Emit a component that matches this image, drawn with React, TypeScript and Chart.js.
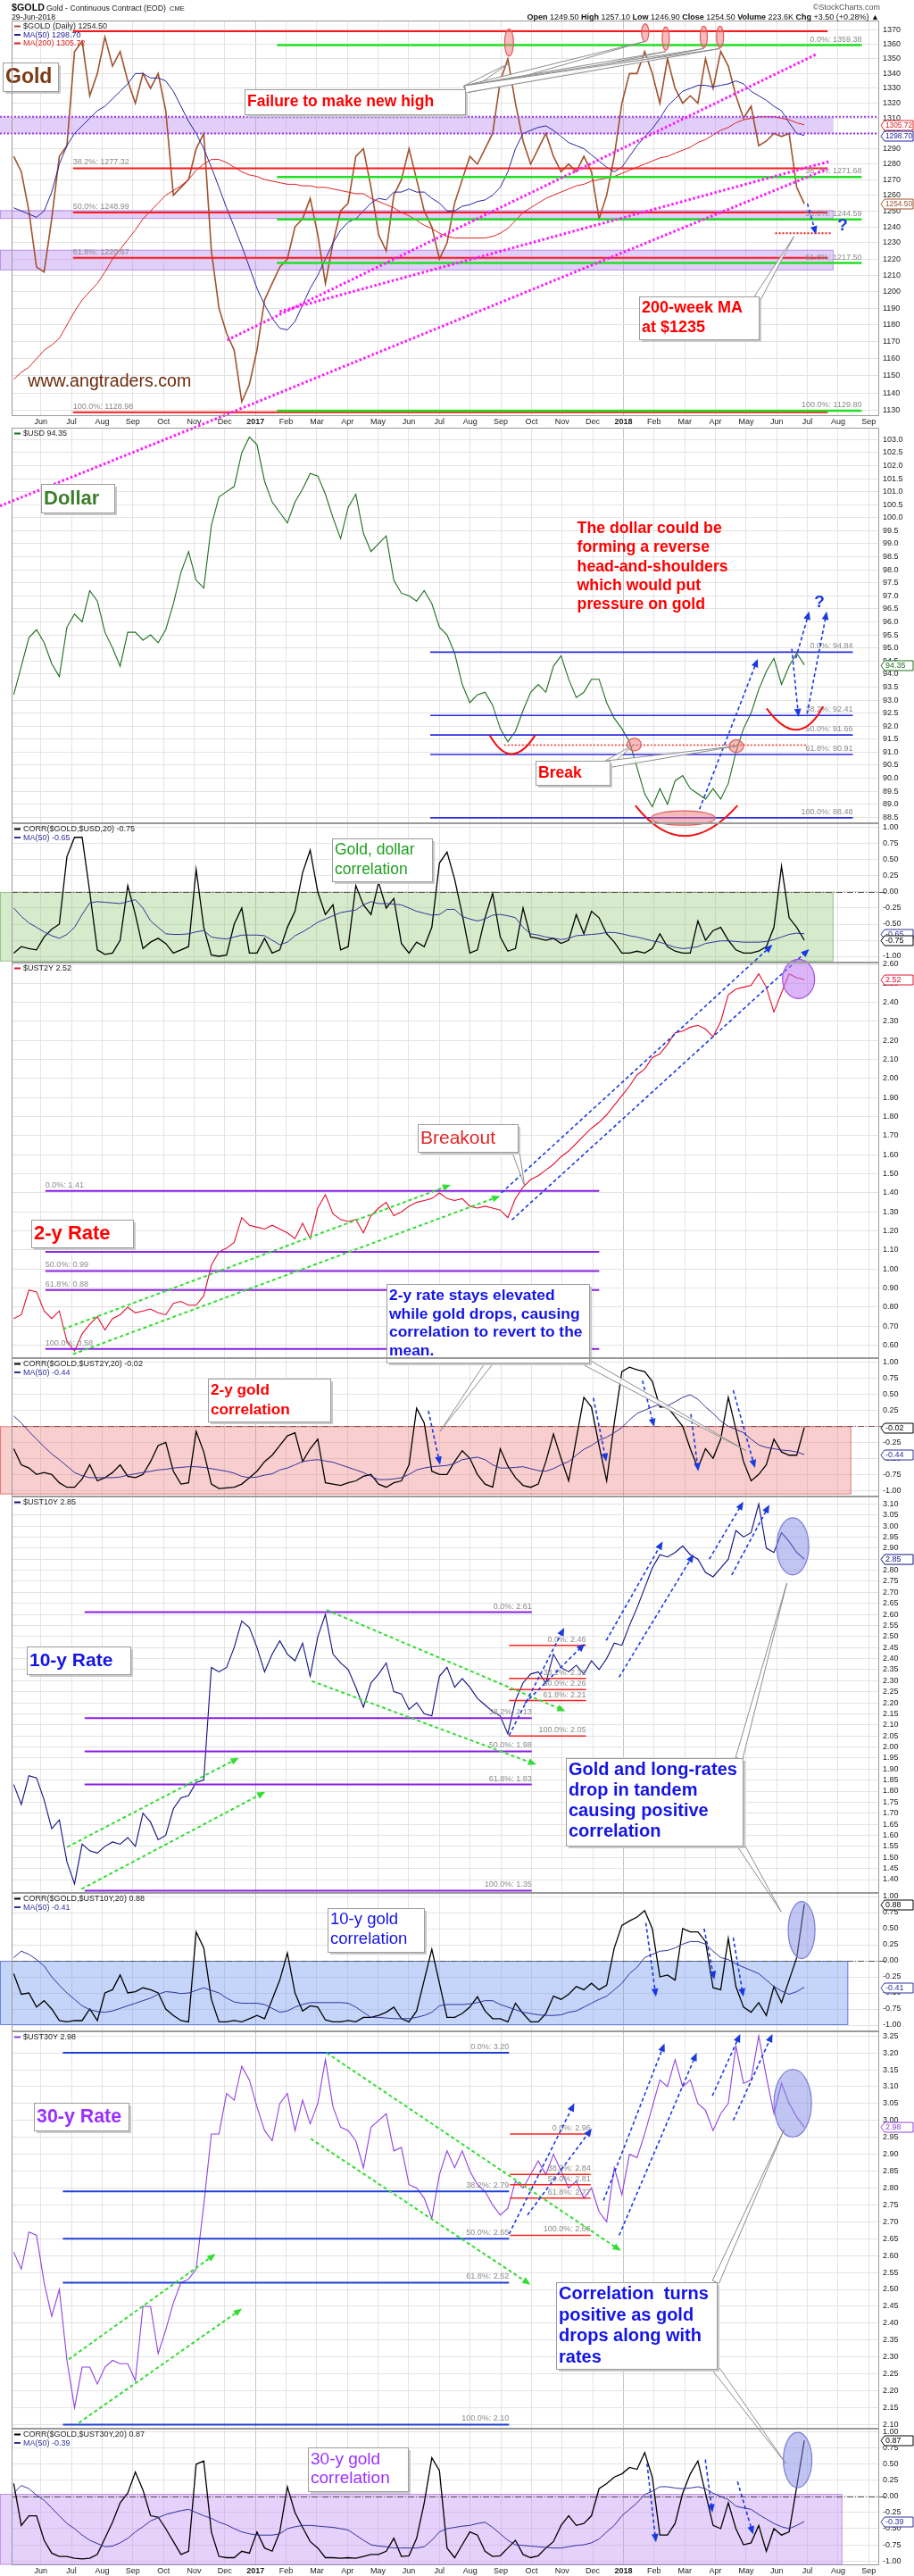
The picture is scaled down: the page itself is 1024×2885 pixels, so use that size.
import React, { useEffect, useRef } from 'react';
import { Chart, registerables } from 'chart.js';

Chart.register(...registerables);

const SANS = '"Liberation Sans", Arial, Helvetica, sans-serif';

// x axis: months since 1 Jan 2016 (5 = Jun 2016, 12 = Jan 2017, 24 = Jan 2018)
// one sample per week, early May 2016 .. 29 Jun 2018
const T0 = 4.117;
const DT = 0.2479;
const X_MIN = 4.048;
const X_MAX = 32.34;

const monthLabels = ['Jun', 'Jul', 'Aug', 'Sep', 'Oct', 'Nov', 'Dec', '2017', 'Feb', 'Mar', 'Apr', 'May', 'Jun', 'Jul',
  'Aug', 'Sep', 'Oct', 'Nov', 'Dec', '2018', 'Feb', 'Mar', 'Apr', 'May', 'Jun', 'Jul', 'Aug', 'Sep'];
const monthTicks = monthLabels.map((_, i) => i + 5);
const isYear = (t: any) => t === 12 || t === 24;

const goldClose = [1285, 1275, 1250, 1215, 1212, 1245, 1285, 1292, 1355, 1362,
  1325, 1340, 1365, 1345, 1355, 1335, 1320, 1340, 1330, 1340,
  1315, 1260, 1265, 1270, 1290, 1300, 1225, 1190, 1175, 1165,
  1135, 1145, 1165, 1195, 1205, 1215, 1220, 1240, 1245, 1258,
  1235, 1205, 1230, 1250, 1255, 1285, 1290, 1265, 1235, 1225,
  1260, 1270, 1290, 1270, 1250, 1240, 1220, 1230, 1255, 1270,
  1285, 1280, 1290, 1300, 1335, 1350, 1320, 1295, 1280, 1290,
  1300, 1285, 1275, 1280, 1275, 1285, 1275, 1245, 1260, 1285,
  1320, 1340, 1340, 1355, 1340, 1320, 1350, 1330, 1320, 1325,
  1320, 1350, 1330, 1355, 1345, 1325, 1310, 1318, 1292, 1295,
  1300, 1298, 1300, 1265, 1254.5];
const goldMa50 = [1252, 1250, 1248, 1246, 1250, 1262, 1280, 1292, 1300, 1305,
  1310, 1315, 1318, 1323, 1328, 1333, 1340, 1340, 1337, 1337,
  1335, 1328, 1318, 1308, 1300, 1290, 1278, 1265, 1252, 1240,
  1228, 1215, 1202, 1192, 1184, 1178, 1177, 1182, 1192, 1202,
  1210, 1220, 1230, 1238, 1243, 1245, 1250, 1255, 1258, 1257,
  1262, 1262, 1264, 1262, 1262, 1258, 1255, 1250, 1250, 1253,
  1254, 1256, 1257, 1260, 1265, 1275, 1290, 1300, 1302, 1304,
  1305, 1302, 1298, 1294, 1292, 1290, 1286, 1282, 1278, 1275,
  1278, 1285, 1292, 1298, 1303, 1310, 1318, 1323, 1328, 1330,
  1332, 1332, 1331, 1332, 1333, 1335, 1333, 1328, 1325, 1322,
  1318, 1315, 1307, 1300, 1298.7];
const goldMa200 = [1148, 1152, 1155, 1160, 1165, 1168, 1172, 1180, 1188, 1195,
  1200, 1205, 1212, 1220, 1226, 1232, 1238, 1245, 1250, 1255,
  1260, 1263, 1266, 1270, 1276, 1280, 1283, 1283, 1281, 1278,
  1275, 1273, 1272, 1270, 1269, 1268, 1267, 1267, 1266, 1266,
  1265, 1265, 1264, 1263, 1262, 1261, 1261, 1258, 1256, 1254,
  1252, 1249, 1247, 1244, 1241, 1239, 1236, 1234, 1233, 1233,
  1233, 1233, 1233, 1234, 1236, 1239, 1244, 1249, 1252, 1255,
  1258, 1260, 1262, 1264, 1266, 1267, 1269, 1270, 1271, 1272,
  1274, 1276, 1278, 1280, 1282, 1284, 1285, 1287, 1289, 1291,
  1294, 1296, 1299, 1302, 1304, 1307, 1309, 1310, 1311, 1311,
  1311, 1310, 1309, 1307, 1305.7];
const usd = [93.2, 94.3, 95.4, 95.7, 95.2, 94.4, 93.9, 95.8, 96.3, 96.0,
  97.2, 96.8, 95.6, 95.0, 94.3, 95.6, 95.6, 95.3, 95.5, 95.2,
  95.7, 96.7, 97.9, 98.7, 97.6, 97.3, 99.7, 100.8, 101.0, 101.2,
  102.5, 103.1, 102.8, 101.4, 100.6, 100.2, 99.8, 100.6, 101.1, 101.7,
  101.6, 100.9, 100.0, 99.2, 100.4, 100.9, 99.4, 98.7, 99.0, 99.3,
  97.6, 97.1, 97.0, 96.8, 97.2, 96.7, 95.8, 95.5, 94.8, 93.6,
  92.9, 93.2, 93.3, 92.8, 91.9, 91.4, 91.8, 92.6, 93.3, 93.6,
  93.3, 94.3, 94.7, 93.8, 93.1, 93.3, 93.8, 93.8, 92.9, 92.3,
  91.9, 91.4, 90.4, 89.4, 88.9, 89.6, 89.0, 89.9, 90.1, 89.6,
  89.4, 89.2, 89.6, 89.2, 89.8, 91.0, 91.9, 92.5, 93.4, 94.1,
  94.6, 93.6, 94.3, 94.8, 94.35];
const corrUsd = [-0.95, -0.85, -0.88, -0.9, -0.7, -0.58, -0.5, 0.55, 0.85, 0.85,
  0.0, -0.9, -0.97, -0.95, -0.75, 0.1, -0.35, -0.88, -0.78, -0.72,
  -0.8, -0.95, -0.9, -0.85, 0.35, -0.55, -0.98, -1.0, -0.98, -0.5,
  -0.25, -0.95, -0.95, -0.72, -0.95, -0.9, -0.55, -0.3, 0.3, 0.65,
  0.0, -0.35, -0.2, -0.9, -0.85, 0.1, -0.2, -0.35, 0.15, -0.25,
  -0.1, -0.8, -0.95, -0.78, -0.85, -0.55, 0.45, 0.62, 0.2, -0.35,
  -0.95, -0.9, -0.4, -0.02, -0.7, -0.92, -0.88, -0.25, -0.7, -0.72,
  -0.75, -0.72, -0.8, -0.75, -0.35, -0.65, -0.3, -0.4, -0.65, -0.78,
  -0.95, -0.95, -0.92, -0.95, -0.88, -0.65, -0.85, -0.92, -0.95, -0.95,
  -0.45, -0.75, -0.6, -0.55, -0.75, -0.9, -0.95, -0.95, -0.92, -0.85,
  -0.55, 0.4, -0.4, -0.55, -0.75];
const corrUsdMa = [-0.25, -0.38, -0.48, -0.55, -0.62, -0.68, -0.72, -0.66, -0.55, -0.35,
  -0.17, -0.15, -0.16, -0.17, -0.18, -0.15, -0.12, -0.25, -0.45, -0.55,
  -0.65, -0.66, -0.66, -0.65, -0.62, -0.6, -0.7, -0.72, -0.73, -0.7,
  -0.67, -0.67, -0.67, -0.68, -0.75, -0.82, -0.78, -0.68, -0.62, -0.55,
  -0.47, -0.42, -0.37, -0.32, -0.3, -0.28, -0.2, -0.15, -0.18, -0.18,
  -0.19, -0.2, -0.25, -0.3, -0.33, -0.36, -0.35, -0.27, -0.27, -0.38,
  -0.42, -0.45, -0.42, -0.36, -0.35, -0.37, -0.4, -0.55, -0.65, -0.67,
  -0.7, -0.72, -0.74, -0.72, -0.68, -0.67, -0.66, -0.65, -0.63, -0.63,
  -0.65, -0.68, -0.7, -0.73, -0.76, -0.78, -0.82, -0.86, -0.88, -0.87,
  -0.85, -0.8, -0.78, -0.76, -0.76, -0.77, -0.78, -0.78, -0.78, -0.77,
  -0.74, -0.7, -0.66, -0.64, -0.65];
const ust2y = [0.74, 0.76, 0.89, 0.88, 0.78, 0.74, 0.78, 0.62, 0.57, 0.66,
  0.71, 0.75, 0.68, 0.74, 0.76, 0.80, 0.77, 0.78, 0.79, 0.77,
  0.76, 0.82, 0.83, 0.81, 0.81, 0.86, 1.02, 1.09, 1.11, 1.14,
  1.27, 1.23, 1.22, 1.21, 1.23, 1.21, 1.19, 1.16, 1.24, 1.16,
  1.32, 1.39, 1.29, 1.26, 1.25, 1.26, 1.19, 1.28, 1.32, 1.35,
  1.28, 1.30, 1.33, 1.35, 1.36, 1.37, 1.40, 1.37, 1.36, 1.37,
  1.33, 1.32, 1.33, 1.32, 1.31, 1.27, 1.37, 1.43, 1.47, 1.49,
  1.52, 1.55, 1.59, 1.62, 1.66, 1.70, 1.74, 1.77, 1.81, 1.86,
  1.91, 1.96, 2.02, 2.05, 2.11, 2.13, 2.18, 2.24, 2.25, 2.27,
  2.28, 2.26, 2.22, 2.30, 2.44, 2.47, 2.48, 2.49, 2.55, 2.48,
  2.35, 2.45, 2.55, 2.53, 2.52];
const corr2y = [-0.35, -0.6, -0.65, -0.75, -0.72, -0.75, -0.88, -0.95, -0.95, -0.82,
  -0.6, -0.85, -0.8, -0.72, -0.6, -0.78, -0.8, -0.75, -0.55, -0.3,
  -0.25, -0.7, -0.9, -0.88, -0.08, -0.4, -0.9, -0.97, -0.96, -0.95,
  -0.9, -0.8, -0.7, -0.55, -0.45, -0.3, -0.15, -0.1, -0.55, -0.35,
  -0.2, -0.88, -0.9, -0.92, -0.88, -0.85, -0.78, -0.75, -0.9, -0.95,
  -0.88, -0.85, -0.6, 0.28, 0.05, -0.7, -0.75, -0.75, -0.55, -0.38,
  -0.5, -0.75, -0.9, -0.95, -0.35, -0.62, -0.8, -0.92, -0.95, -0.9,
  -0.55, -0.12, -0.5, -0.85, -0.2, 0.45, 0.3, -0.3, -0.85, 0.05,
  0.85, 0.92, 0.88, 0.85, 0.7, 0.3, 0.3, 0.15, 0.0, -0.35,
  -0.65, -0.35, -0.5, -0.2, 0.45, -0.05, -0.55, -0.85, -0.75, -0.6,
  -0.2, -0.4, -0.45, -0.45, -0.02];
const corr2yMa = [0.16, 0.05, -0.08, -0.2, -0.32, -0.43, -0.52, -0.62, -0.72, -0.77,
  -0.8, -0.8, -0.8, -0.8, -0.79, -0.76, -0.74, -0.72, -0.7, -0.68,
  -0.67, -0.65, -0.64, -0.63, -0.63, -0.64, -0.66, -0.68, -0.7, -0.73,
  -0.78, -0.8, -0.79, -0.76, -0.74, -0.68, -0.65, -0.6, -0.55, -0.53,
  -0.52, -0.54, -0.56, -0.6, -0.64, -0.68, -0.72, -0.78, -0.83, -0.83,
  -0.82, -0.8, -0.75, -0.68, -0.65, -0.63, -0.62, -0.61, -0.58, -0.52,
  -0.5, -0.48, -0.52, -0.6, -0.65, -0.65, -0.64, -0.63, -0.66, -0.69,
  -0.7, -0.66, -0.6, -0.55, -0.45, -0.36, -0.3, -0.22, -0.17, -0.1,
  -0.02, 0.1, 0.2, 0.25, 0.3, 0.34, 0.32, 0.38, 0.45, 0.49,
  0.42, 0.3, 0.2, 0.08, 0.0, -0.05, -0.1, -0.2, -0.29, -0.33,
  -0.35, -0.37, -0.38, -0.4, -0.44];
const ust10y = [1.83, 1.74, 1.87, 1.86, 1.76, 1.63, 1.67, 1.48, 1.38, 1.56,
  1.53, 1.52, 1.55, 1.57, 1.56, 1.59, 1.55, 1.70, 1.66, 1.58,
  1.60, 1.72, 1.77, 1.78, 1.84, 1.85, 2.36, 2.34, 2.36, 2.45,
  2.57, 2.54, 2.45, 2.34, 2.42, 2.48, 2.42, 2.39, 2.47, 2.32,
  2.50, 2.60, 2.42, 2.38, 2.35, 2.27, 2.18, 2.29, 2.33, 2.38,
  2.25, 2.24, 2.17, 2.20, 2.15, 2.14, 2.32, 2.36, 2.27, 2.31,
  2.27, 2.22, 2.19, 2.16, 2.14, 2.06, 2.21, 2.29, 2.33, 2.34,
  2.29, 2.42, 2.36, 2.34, 2.37, 2.33, 2.39, 2.35, 2.40, 2.47,
  2.46, 2.55, 2.63, 2.72, 2.81, 2.87, 2.86, 2.88, 2.91, 2.87,
  2.85, 2.79, 2.77, 2.81, 2.85, 2.98, 2.95, 2.97, 3.10, 2.90,
  2.88, 2.97, 2.93, 2.88, 2.85];
const corr10y = [-0.2, -0.52, -0.5, -0.72, -0.62, -0.75, -0.93, -0.95, -0.93, -0.93,
  -0.75, -0.93, -0.5, -0.45, -0.22, -0.5, -0.48, -0.42, -0.45, -0.5,
  -0.75, -0.85, -0.93, -0.95, 0.45, 0.2, -0.6, -0.95, -0.95, -0.93,
  -0.95, -0.9, -0.85, -0.9, -0.6, -0.3, 0.12, -0.5, -0.78, -0.7,
  -0.72, -0.92, -0.95, -0.95, -0.93, -0.95, -0.88, -0.88, -0.85, -0.8,
  -0.72, -0.9, -0.95, -0.78, -0.3, 0.18, -0.35, -0.88, -0.88, -0.82,
  -0.72, -0.56, -0.78, -0.9, -0.9, -0.95, -0.66, -0.82, -0.95, -0.95,
  -0.82, -0.55, -0.6, -0.52, -0.4, -0.45, -0.35, -0.45, -0.38, 0.2,
  0.55, 0.62, 0.68, 0.78, 0.5, -0.25, -0.22, -0.3, 0.5, 0.45,
  0.45, 0.3, -0.42, -0.45, 0.35, -0.4, -0.72, -0.8, -0.65, -0.85,
  -0.4, -0.65, -0.3, 0.05, 0.88];
const corr10yMa = [0.05, 0.15, 0.1, 0.02, -0.08, -0.25, -0.38, -0.5, -0.6, -0.7,
  -0.76, -0.79, -0.8, -0.78, -0.74, -0.7, -0.66, -0.62, -0.58, -0.52,
  -0.48, -0.49, -0.51, -0.5, -0.46, -0.42, -0.46, -0.5, -0.58, -0.64,
  -0.66, -0.66, -0.66, -0.68, -0.74, -0.8, -0.78, -0.72, -0.68, -0.65,
  -0.65, -0.65, -0.65, -0.65, -0.66, -0.72, -0.8, -0.88, -0.88, -0.89,
  -0.9, -0.9, -0.9, -0.88, -0.85, -0.8, -0.7, -0.68, -0.68, -0.68,
  -0.67, -0.65, -0.62, -0.62, -0.68, -0.72, -0.76, -0.8, -0.82, -0.84,
  -0.85, -0.85, -0.84, -0.8, -0.78, -0.72, -0.66, -0.6, -0.55, -0.45,
  -0.35, -0.2, -0.1, 0.05, 0.1, 0.15, 0.16, 0.2, 0.26, 0.3,
  0.3, 0.26, 0.15, 0.05, 0.02, -0.05, -0.1, -0.15, -0.2, -0.3,
  -0.4, -0.47, -0.52, -0.48, -0.41];
const ust30y = [2.61, 2.56, 2.67, 2.66, 2.52, 2.42, 2.50, 2.29, 2.15, 2.27,
  2.27, 2.22, 2.27, 2.29, 2.28, 2.28, 2.23, 2.45, 2.45, 2.31,
  2.38, 2.46, 2.52, 2.53, 2.56, 2.75, 2.96, 2.96, 3.08, 3.06,
  3.16, 3.12, 3.04, 2.97, 2.94, 3.05, 3.08, 2.97, 3.06, 2.99,
  3.05, 3.18, 3.04, 2.98, 2.97, 2.94, 2.86, 2.98, 3.00, 3.02,
  2.91, 2.92, 2.81, 2.80, 2.77, 2.71, 2.84, 2.91, 2.86, 2.91,
  2.85, 2.81, 2.79, 2.75, 2.72, 2.74, 2.82, 2.80, 2.84, 2.88,
  2.84, 2.90, 2.85, 2.80, 2.82, 2.77, 2.80, 2.73, 2.70, 2.86,
  2.78, 2.90, 2.89, 2.96, 3.04, 3.12, 3.10, 3.18, 3.10, 3.12,
  3.05, 3.03, 2.97, 3.02, 3.05, 3.22, 3.11, 3.12, 3.25, 3.13,
  3.02, 3.11, 3.05, 3.01, 2.98];
const corr30y = [0.2, -0.45, -0.3, -0.3, -0.68, -0.88, -0.93, -0.93, -0.96, -0.97,
  -0.96, -0.9, -0.65, -0.4, -0.1, 0.05, 0.38, 0.1, -0.3, -0.32,
  -0.5, -0.7, -0.9, -0.85, 0.5, 0.55, -0.55, -0.93, -0.95, -0.95,
  -0.85, -0.88, -0.55, -0.8, -0.85, -0.55, 0.15, -0.25, -0.48, -0.7,
  -0.8, -0.95, -0.95, -0.96, -0.95, -0.96, -0.93, -0.9, -0.9, -0.85,
  -0.65, -0.93, -0.92, -0.65, -0.1, 0.6, 0.4, -0.8, -0.95, -0.75,
  -0.55, -0.6, -0.85, -0.93, -0.92, -0.8, -0.68, -0.9, -0.95, -0.92,
  -0.8, -0.7, -0.45, -0.3, -0.45, -0.42, -0.3, 0.12, 0.2, 0.3,
  0.35, 0.45, 0.42, 0.68, 0.3, -0.6, -0.6, -0.42, 0.05, 0.35,
  0.55, 0.05, -0.45, -0.5, -0.1, -0.5, -0.75, -0.72, -0.45, -0.85,
  -0.5, -0.6, -0.55, 0.15, 0.87];
const corr30yMa = [0.05, 0.17, 0.12, 0.02, -0.06, -0.18, -0.3, -0.42, -0.5, -0.6,
  -0.68, -0.73, -0.78, -0.77, -0.72, -0.65, -0.55, -0.47, -0.38, -0.33,
  -0.28, -0.25, -0.22, -0.2, -0.25, -0.3, -0.34, -0.4, -0.44, -0.5,
  -0.55, -0.58, -0.6, -0.6, -0.6, -0.58, -0.5, -0.47, -0.45, -0.45,
  -0.46, -0.47, -0.48, -0.5, -0.52, -0.6, -0.68, -0.75, -0.77, -0.78,
  -0.8, -0.8, -0.8, -0.8, -0.78, -0.68, -0.55, -0.5, -0.48, -0.46,
  -0.45, -0.42, -0.4, -0.48, -0.58, -0.68, -0.75, -0.76, -0.77, -0.78,
  -0.79, -0.8, -0.8, -0.78, -0.76, -0.75, -0.72, -0.66, -0.55, -0.45,
  -0.3, -0.2, -0.1, 0.03, 0.08, 0.15, 0.15, 0.13, 0.12, 0.13,
  0.15, 0.12, 0.05, 0.0, -0.05, -0.15, -0.18, -0.2, -0.28, -0.35,
  -0.42, -0.47, -0.5, -0.45, -0.39];

// panels, top to bottom (h = height in px)
const panels = [
  { id: 'gold', h: 443, min: 1126.8, max: 1376.4, log: true, tick: [1130, 1370, 10], dec: 0 },
  { id: 'sp', h: 13 },
  { id: 'usd', h: 443, min: 88.27, max: 103.456, tick: [88.5, 103, 0.5], dec: 1 },
  { id: 'cusd', h: 156, min: -1.097, max: 1.069, tick: [-1, 1, 0.25], dec: 2 },
  { id: 'y2', h: 443, min: 0.5325, max: 2.6094, tick: [0.6, 2.6, 0.1], dec: 2 },
  { id: 'c2', h: 155, min: -1.093, max: 1.061, tick: [-1, 1, 0.25], dec: 2 },
  { id: 'y10', h: 444, min: 1.3394, max: 3.1335, tick: [1.4, 3.1, 0.05], dec: 2 },
  { id: 'c10', h: 155, min: -1.097, max: 1.0556, tick: [-1, 1, 0.25], dec: 2 },
  { id: 'y30', h: 445, min: 2.0878, max: 3.2637, tick: [2.1, 3.25, 0.05], dec: 2 },
  { id: 'c30', h: 153, min: -1.068, max: 1.051, tick: [-1, 1, 0.25], dec: 2 },
];

const BLUE_MA = '#30309a';
const series = [
  { ax: 'gold', data: goldMa200, color: '#e02020', w: 1 },
  { ax: 'gold', data: goldMa50, color: '#2323a0', w: 1 },
  { ax: 'gold', data: goldClose, color: '#a0522d', w: 1.6 },
  { ax: 'usd', data: usd, color: '#1d6e1d', w: 1.1 },
  { ax: 'cusd', data: corrUsdMa, color: BLUE_MA, w: 1 },
  { ax: 'cusd', data: corrUsd, color: '#000', w: 1.3 },
  { ax: 'y2', data: ust2y, color: '#e01030', w: 1.1 },
  { ax: 'c2', data: corr2yMa, color: BLUE_MA, w: 1 },
  { ax: 'c2', data: corr2y, color: '#000', w: 1.3 },
  { ax: 'y10', data: ust10y, color: '#101080', w: 1.1 },
  { ax: 'c10', data: corr10yMa, color: BLUE_MA, w: 1 },
  { ax: 'c10', data: corr10y, color: '#000', w: 1.3 },
  { ax: 'y30', data: ust30y, color: '#9040e0', w: 1.1 },
  { ax: 'c30', data: corr30yMa, color: BLUE_MA, w: 1 },
  { ax: 'c30', data: corr30y, color: '#000', w: 1.3 },
];

// ---- annotations (data coordinates: [t, value]) ----
const bands = [
  { ax: 'gold', t1: 3.67, t2: 30.85, lo: 1300, hi: 1311, fill: 'rgba(185,140,240,0.42)', edge: '' },
  { ax: 'gold', t1: 3.67, t2: 30.85, lo: 1245, hi: 1250.5, fill: 'rgba(185,140,240,0.42)', edge: 'rgba(150,90,220,0.5)' },
  { ax: 'gold', t1: 3.67, t2: 30.85, lo: 1213, hi: 1225.7, fill: 'rgba(185,140,240,0.42)', edge: 'rgba(150,90,220,0.5)' },
  { ax: 'cusd', t1: 3.67, t2: 30.85, lo: -1.08, hi: 0, fill: 'rgba(140,200,115,0.36)', edge: 'rgba(110,170,90,0.6)' },
  { ax: 'c2', t1: 3.67, t2: 31.43, lo: -1.06, hi: 0, fill: 'rgba(238,120,120,0.36)', edge: 'rgba(220,90,90,0.7)' },
  { ax: 'c10', t1: 3.67, t2: 31.33, lo: -1.0, hi: 0, fill: 'rgba(110,150,240,0.4)', edge: 'rgba(80,110,220,0.8)' },
  { ax: 'c30', t1: 3.67, t2: 31.14, lo: -1.06, hi: 0.04, fill: 'rgba(190,140,240,0.4)', edge: 'rgba(170,110,230,0.6)' },
];
const zeroLines = [
  { ax: 'cusd', color: '#555' }, { ax: 'c2', color: '#8a4a4a' }, { ax: 'c10', color: '#555' }, { ax: 'c30', color: '#555' },
];
const goldBandEdges = [1311, 1300];

const fibSets = [
  { ax: 'gold', t1: 6.05, t2: 30.66, color: '#ff1a1a', w: 2, side: 'left',
    levels: [[1369.0, ''], [1277.32, '38.2%: 1277.32'], [1248.99, '50.0%: 1248.99'], [1220.67, '61.8%: 1220.67'], [1128.98, '100.0%: 1128.98']] },
  { ax: 'gold', t1: 12.70, t2: 31.77, color: '#22e022', w: 2.5, side: 'right',
    levels: [[1359.38, '0.0%: 1359.38'], [1271.68, '38.2%: 1271.68'], [1244.59, '50.0%: 1244.59'], [1217.50, '61.8%: 1217.50'], [1129.80, '100.0%: 1129.80']] },
  { ax: 'usd', t1: 17.70, t2: 31.48, color: '#2a2ae0', w: 1.6, side: 'right',
    levels: [[94.84, '0.0%: 94.84'], [92.41, '38.2%: 92.41'], [91.66, '50.0%: 91.66'], [90.91, '61.8%: 90.91'], [88.48, '100.0%: 88.48']] },
  { ax: 'y2', t1: 5.15, t2: 23.21, color: '#8a1fe6', w: 2, side: 'left',
    levels: [[1.41, '0.0%: 1.41'], [1.09, '38.2%: 1.09'], [0.99, '50.0%: 0.99'], [0.89, '61.8%: 0.88'], [0.58, '100.0%: 0.58']] },
  { ax: 'y10', t1: 6.43, t2: 21.01, color: '#8a1fe6', w: 2, side: 'right',
    levels: [[2.61, '0.0%: 2.61'], [2.13, '38.2%: 2.13'], [1.98, '50.0%: 1.98'], [1.83, '61.8%: 1.83'], [1.35, '100.0%: 1.35']] },
  { ax: 'y10', t1: 20.27, t2: 22.78, color: '#ff2020', w: 1.5, side: 'right',
    levels: [[2.46, '0.0%: 2.46'], [2.31, '38.2%: 2.31'], [2.26, '50.0%: 2.26'], [2.21, '61.8%: 2.21'], [2.05, '100.0%: 2.05']] },
  { ax: 'y30', t1: 5.72, t2: 20.27, color: '#1f3fd9', w: 2, side: 'right',
    levels: [[3.20, '0.0%: 3.20'], [2.79, '38.2%: 2.79'], [2.65, '50.0%: 2.65'], [2.52, '61.8%: 2.52'], [2.10, '100.0%: 2.10']] },
  { ax: 'y30', t1: 20.30, t2: 22.93, color: '#ff2020', w: 1.5, side: 'right',
    levels: [[2.96, '0.0%: 2.96'], [2.84, '38.2%: 2.84'], [2.81, '50.0%: 2.81'], [2.77, '61.8%: 2.77'], [2.66, '100.0%: 2.66']] },
];
const dottedLines = [
  { ax: 'usd', t1: 20.11, t2: 30.0, v: 91.27, color: '#f03030', w: 1.5 },
  { ax: 'gold', t1: 28.95, t2: 30.76, v: 1236, color: '#f02020', w: 2 },
];
const trendLines = [
  ['gold', 11.08, 1171, 30.28, 1353],
  ['gold', 12.79, 1188, 30.76, 1282],
  ['gold', 10.0, 1120.2, 30.66, 1277],
  ['usd', 3.67, 100.45, 10.0, 103.456],
];
// [axis, t1, v1, t2, v2, colour] - blue ('b') or green ('g') dashed arrows
const arrows: any[] = [
  ['gold', 30.0, 1254.7, 30.28, 1235.3, 'b'],
  ['usd', 26.48, 88.81, 28.38, 94.58, 'b'],
  ['usd', 29.49, 94.97, 29.71, 92.35, 'b'],
  ['usd', 29.99, 92.47, 30.63, 96.4, 'b'],
  ['usd', 29.62, 94.6, 30.06, 96.4, 'b'],
  ['y2', 20.02, 1.40, 28.86, 2.703, 'b'],
  ['y2', 20.36, 1.258, 30.06, 2.68, 'b'],
  ['y2', 5.72, 0.684, 18.37, 1.442, 'g'],
  ['y2', 6.05, 0.553, 19.98, 1.384, 'g'],
  ['c2', 17.64, 0.24, 18.02, -0.6, 'b'],
  ['c2', 23.02, 0.44, 23.44, -0.55, 'b'],
  ['c2', 24.62, 0.71, 25.0, -0.01, 'b'],
  ['c2', 26.2, 0.19, 26.44, -0.7, 'b'],
  ['c2', 27.58, 0.56, 28.29, -0.65, 'b'],
  ['y10', 14.32, 2.62, 22.11, 2.162, 'g'],
  ['y10', 13.84, 2.298, 21.16, 1.92, 'g'],
  ['y10', 5.86, 1.547, 11.46, 1.951, 'g'],
  ['y10', 6.33, 1.357, 12.32, 1.797, 'g'],
  ['y10', 20.27, 2.052, 22.07, 2.54, 'b'],
  ['y10', 20.78, 2.197, 22.74, 2.468, 'b'],
  ['y10', 23.44, 2.482, 25.28, 2.93, 'b'],
  ['y10', 23.86, 2.316, 26.29, 2.872, 'b'],
  ['y10', 26.8, 2.85, 27.91, 3.11, 'b'],
  ['y10', 27.53, 2.778, 28.76, 3.096, 'b'],
  ['c10', 24.73, 0.59, 25.06, -0.56, 'b'],
  ['c10', 26.63, 0.5, 26.96, -0.29, 'b'],
  ['c10', 27.58, 0.36, 27.91, -0.56, 'b'],
  ['y30', 14.32, 3.20, 23.92, 2.614, 'g'],
  ['y30', 13.80, 2.946, 20.97, 2.514, 'g'],
  ['y30', 5.91, 2.293, 10.7, 2.605, 'g'],
  ['y30', 6.24, 2.105, 11.56, 2.443, 'g'],
  ['y30', 20.27, 2.664, 22.4, 3.051, 'b'],
  ['y30', 20.87, 2.72, 22.97, 2.976, 'b'],
  ['y30', 23.35, 2.763, 25.34, 3.228, 'b'],
  ['y30', 23.86, 2.66, 26.39, 3.20, 'b'],
  ['y30', 26.9, 3.073, 27.81, 3.256, 'b'],
  ['y30', 27.58, 3.0, 28.86, 3.256, 'b'],
  ['c30', 24.77, 0.51, 25.06, -0.71, 'b'],
  ['c30', 26.67, 0.57, 26.9, -0.25, 'b'],
  ['c30', 27.72, 0.23, 28.23, -0.59, 'b'],
];
// head-and-shoulders arcs: start, control, end
const arcs = [
  ['usd', 19.64, 91.65, 20.34, 90.21, 21.12, 91.65],
  ['usd', 24.39, 88.95, 25.95, 86.61, 27.72, 88.95],
  ['usd', 28.67, 92.68, 29.71, 91.0, 30.51, 92.75],
];
// [axis, t, v, rx px, ry px, style]
const ellipses: any[] = [
  ['gold', 20.27, 1361.2, 5, 15, 'r'],
  ['gold', 24.71, 1368, 4, 10, 'r'],
  ['gold', 25.38, 1364, 4, 13, 'r'],
  ['gold', 26.62, 1365, 4, 12, 'r'],
  ['gold', 27.15, 1365, 4, 12, 'r'],
  ['usd', 24.35, 91.29, 8, 7, 'r'],
  ['usd', 27.68, 91.23, 8, 7, 'r'],
  ['usd', 25.95, 88.47, 36, 8, 'r'],
  ['y2', 29.71, 2.523, 18, 22, 'p'],
  ['y10', 29.52, 2.908, 18, 32, 'b'],
  ['c10', 29.81, 0.477, 15, 32, 'b'],
  ['y30', 29.52, 3.051, 21, 38, 'b'],
  ['c30', 29.68, 0.565, 16, 31, 'b'],
];
const ellipseStyle: any = {
  r: ['rgba(240,120,120,0.5)', '#e05a5a'],
  p: ['rgba(190,120,240,0.55)', '#a050e0'],
  b: ['rgba(130,140,230,0.5)', '#7c7cd8'],
};
// callout wedges: base -> tip
const callouts: any[] = [
  [['gold', 18.84, 1329.4], ['gold', 20.27, 1347]],
  [['gold', 18.84, 1329.4], ['gold', 24.71, 1362]],
  [['gold', 18.84, 1329.4], ['gold', 25.38, 1355]],
  [['gold', 18.84, 1329.4], ['gold', 26.62, 1357]],
  [['gold', 18.84, 1329.4], ['gold', 27.15, 1357]],
  [['gold', 28.38, 1196.4], ['gold', 29.56, 1234]],
  [['usd', 23.44, 90.53], ['usd', 24.35, 91.29]],
  [['usd', 23.44, 90.53], ['usd', 27.68, 91.23]],
  [['y2', 20.49, 1.617], ['y2', 20.78, 1.434]],
  [['c2', 19.64, 1.0], ['c2', 18.02, -0.08]],
  [['c2', 22.77, 1.0], ['c2', 28.0, -0.38]],
  [['y10', 27.77, 1.948], ['y10', 29.33, 2.742]],
  [['y10', 27.81, 1.559], ['c10', 29.14, 0.766]],
  [['y30', 27.01, 2.522], ['y30', 29.24, 2.973]],
  [['y30', 27.01, 2.265], ['c30', 29.3, 0.51]],
];
// text boxes, anchored at their top-left corner
const notes = [
  { ax: 'gold', t: 3.76, v: 1347.5, w: 62, h: 32, lines: ['Gold'], color: '#7b3a12', size: 23, bold: true },
  { ax: 'gold', t: 11.65, v: 1329.4, w: 247, h: 28, lines: ['Failure to make new high'], color: '#ff0000', size: 17.5, bold: true },
  { ax: 'gold', t: 24.52, v: 1197.3, w: 134, h: 48, lines: ['200-week MA', 'at $1235'], color: '#ff0000', size: 18, bold: true },
  { ax: 'usd', t: 5.0, v: 101.31, w: 82, h: 32, lines: ['Dollar'], color: '#3b7d2b', size: 22, bold: true },
  { ax: 'usd', t: 21.12, v: 90.67, w: 83, h: 27, lines: ['Break'], color: '#ff0000', size: 17.5, bold: true },
  { ax: 'cusd', t: 14.51, v: 0.833, w: 112, h: 48, lines: ['Gold, dollar', 'correlation'], color: '#1fa01f', size: 17.5, bold: false },
  { ax: 'y2', t: 17.28, v: 1.761, w: 112, h: 31, lines: ['Breakout'], color: '#e02828', size: 21, bold: false },
  { ax: 'y2', t: 4.68, v: 1.258, w: 114, h: 31, lines: ['2-y Rate'], color: '#ff0000', size: 22, bold: true },
  { ax: 'y2', t: 16.27, v: 0.922, w: 227, h: 88, lh: 20.7, lines: ['2-y rate stays elevated', 'while gold drops, causing', 'correlation to revert to the', 'mean.'], color: '#1414e6', size: 17.4, bold: true },
  { ax: 'c2', t: 10.44, v: 0.747, w: 137, h: 48, lines: ['2-y gold', 'correlation'], color: '#ff0000', size: 17.2, bold: true },
  { ax: 'y10', t: 4.53, v: 2.454, w: 116, h: 31, lines: ['10-y Rate'], color: '#1414e6', size: 21, bold: true },
  { ax: 'y10', t: 22.11, v: 1.948, w: 198, h: 98, lh: 23.2, lines: ['Gold and long-rates', 'drop in tandem', 'causing positive', 'correlation'], color: '#1414e6', size: 20, bold: true },
  { ax: 'c10', t: 14.35, v: 0.815, w: 108, h: 49, lines: ['10-y gold', 'correlation'], color: '#1414e6', size: 18.5, bold: false },
  { ax: 'y30', t: 4.77, v: 3.053, w: 106, h: 31, lines: ['30-y Rate'], color: '#9b30ff', size: 21.4, bold: true },
  { ax: 'y30', t: 21.81, v: 2.522, w: 180, h: 97, lh: 23.8, lines: ['Correlation  turns', 'positive as gold', 'drops along with', 'rates'], color: '#1414e6', size: 20, bold: true },
  { ax: 'c30', t: 13.71, v: 0.757, w: 112, h: 49, lines: ['30-y gold', 'correlation'], color: '#9b30ff', size: 19, bold: false },
];
const freeTexts = [
  { ax: 'gold', t: 4.58, v: 1146.3, lines: ['www.angtraders.com'], color: '#6b2a0a', size: 19.6, bold: false, lh: 20 },
  { ax: 'usd', t: 22.49, v: 99.58, lines: ['The dollar could be', 'forming a reverse', 'head-and-shoulders', 'which would put', 'pressure on gold'], color: '#ff0000', size: 17.7, bold: true, lh: 21.3 },
  { ax: 'gold', t: 30.98, v: 1241, lines: ['?'], color: '#1a3ae0', size: 19, bold: true, lh: 20 },
  { ax: 'usd', t: 30.22, v: 96.74, lines: ['?'], color: '#1a3ae0', size: 19, bold: true, lh: 20 },
];
const legends = [
  { ax: 'gold', rows: [['$GOLD (Daily) 1254.50', '#a0522d', '#222'], ['MA(50) 1298.70', '#2323a0', '#2323a0'], ['MA(200) 1305.72', '#e02020', '#e02020']] },
  { ax: 'usd', rows: [['$USD 94.35', '#1d6e1d', '#222']] },
  { ax: 'cusd', rows: [['CORR($GOLD,$USD,20) -0.75', '#000', '#222'], ['MA(50) -0.65', BLUE_MA, BLUE_MA]] },
  { ax: 'y2', rows: [['$UST2Y 2.52', '#e01030', '#222']] },
  { ax: 'c2', rows: [['CORR($GOLD,$UST2Y,20) -0.02', '#000', '#222'], ['MA(50) -0.44', BLUE_MA, BLUE_MA]] },
  { ax: 'y10', rows: [['$UST10Y 2.85', '#101080', '#222']] },
  { ax: 'c10', rows: [['CORR($GOLD,$UST10Y,20) 0.88', '#000', '#222'], ['MA(50) -0.41', BLUE_MA, BLUE_MA]] },
  { ax: 'y30', rows: [['$UST30Y 2.98', '#9040e0', '#222']] },
  { ax: 'c30', rows: [['CORR($GOLD,$UST30Y,20) 0.87', '#000', '#222'], ['MA(50) -0.39', BLUE_MA, BLUE_MA]] },
];
const valueTags: any[] = [
  ['gold', 1305.72, '1305.72', '#e02020'], ['gold', 1298.70, '1298.70', '#2323a0'], ['gold', 1254.50, '1254.50', '#a0522d'],
  ['usd', 94.35, '94.35', '#1d6e1d'],
  ['cusd', -0.65, '-0.65', BLUE_MA], ['cusd', -0.75, '-0.75', '#000'],
  ['y2', 2.52, '2.52', '#e01030'],
  ['c2', -0.02, '-0.02', '#000'], ['c2', -0.44, '-0.44', BLUE_MA],
  ['y10', 2.85, '2.85', '#101080'],
  ['c10', 0.88, '0.88', '#000'], ['c10', -0.41, '-0.41', BLUE_MA],
  ['y30', 2.98, '2.98', '#9040e0'],
  ['c30', 0.87, '0.87', '#000'], ['c30', -0.39, '-0.39', BLUE_MA],
];

const range = (lo: number, hi: number, st: number) => {
  const out: number[] = [];
  for (let v = lo; v <= hi + st / 2; v += st) out.push(+v.toFixed(4));
  return out;
};
const font = (size: number, bold = false) => `${bold ? 'bold ' : ''}${size}px ${SANS}`;

function drawArrow(ctx: any, x1: number, y1: number, x2: number, y2: number, color: string, w: number) {
  const a = Math.atan2(y2 - y1, x2 - x1);
  const hl = 10;
  ctx.strokeStyle = color;
  ctx.lineWidth = w;
  ctx.setLineDash([4, 3]);
  ctx.beginPath();
  ctx.moveTo(x1, y1);
  ctx.lineTo(x2 - Math.cos(a) * hl * 0.7, y2 - Math.sin(a) * hl * 0.7);
  ctx.stroke();
  ctx.setLineDash([]);
  ctx.fillStyle = color;
  ctx.beginPath();
  ctx.moveTo(x2, y2);
  ctx.lineTo(x2 - hl * Math.cos(a - 0.4), y2 - hl * Math.sin(a - 0.4));
  ctx.lineTo(x2 - hl * Math.cos(a + 0.4), y2 - hl * Math.sin(a + 0.4));
  ctx.closePath();
  ctx.fill();
}

function drawLines(ctx: any, x: number, yFirst: number, lines: string[], lh: number, size: number, bold: boolean, color: string, maxW: number) {
  ctx.font = font(size, bold);
  ctx.fillStyle = color;
  ctx.textAlign = 'left';
  ctx.textBaseline = 'middle';
  const widest = Math.max(...lines.map((s) => ctx.measureText(s).width));
  const k = Math.min(1, maxW / widest);
  ctx.save();
  ctx.translate(x, yFirst);
  ctx.scale(k, 1);
  lines.forEach((s, i) => ctx.fillText(s, 0, i * lh));
  ctx.restore();
}

const overlay = {
  id: 'overlay',
  beforeDatasetsDraw(chart: any) {
    const { ctx, chartArea: ca, scales: s } = chart;
    const X = (t: number) => s.x.getPixelForValue(t);
    ctx.save();
    for (const b of bands) {
      const sc = s[b.ax];
      const yTop = sc.getPixelForValue(b.hi);
      const yBot = Math.min(sc.getPixelForValue(b.lo), sc.bottom);
      const x1 = X(b.t1);
      const x2 = X(b.t2);
      ctx.fillStyle = b.fill;
      ctx.fillRect(x1, yTop, x2 - x1, yBot - yTop);
      if (b.edge) {
        ctx.strokeStyle = b.edge;
        ctx.lineWidth = 1;
        ctx.strokeRect(x1 + 0.5, yTop + 0.5, x2 - x1 - 1, yBot - yTop - 1);
      }
    }
    ctx.lineWidth = 1;
    ctx.setLineDash([7, 2, 1, 2]);
    for (const z of zeroLines) {
      const y = Math.round(s[z.ax].getPixelForValue(0)) + 0.5;
      ctx.strokeStyle = z.color;
      ctx.beginPath();
      ctx.moveTo(ca.left, y);
      ctx.lineTo(ca.right + 8, y);
      ctx.stroke();
    }
    ctx.setLineDash([]);
    // label strip between the gold and dollar panels
    const sp = s.sp;
    ctx.fillStyle = '#fff';
    ctx.fillRect(ca.left - 1, sp.top, ca.right - ca.left + 2, sp.bottom - sp.top);
    ctx.fillStyle = '#222';
    ctx.textAlign = 'center';
    ctx.textBaseline = 'middle';
    for (const t of monthTicks) {
      ctx.font = font(9, isYear(t));
      ctx.fillText(monthLabels[t - 5], X(t), (sp.top + sp.bottom) / 2 + 0.5);
    }
    ctx.restore();
  },
  afterDatasetsDraw(chart: any) {
    const { ctx, chartArea: ca, scales: s } = chart;
    const X = (t: number) => s.x.getPixelForValue(t);
    const Y = (ax: string, v: number) => s[ax].getPixelForValue(v);
    const line = (x1: number, y1: number, x2: number, y2: number) => {
      ctx.beginPath(); ctx.moveTo(x1, y1); ctx.lineTo(x2, y2); ctx.stroke();
    };
    ctx.save();
    ctx.lineCap = 'butt';
    // dotted edges of the upper gold band
    ctx.setLineDash([2, 2]);
    ctx.lineWidth = 2;
    ctx.strokeStyle = '#9b3cf0';
    for (const v of goldBandEdges) line(0, Y('gold', v), ca.right, Y('gold', v));
    ctx.setLineDash([]);
    // fibonacci levels
    for (const f of fibSets) {
      for (const [v, label] of f.levels as any[]) {
        const y = Y(f.ax, v);
        ctx.strokeStyle = f.color;
        ctx.lineWidth = f.w;
        line(X(f.t1), y, X(f.t2), y);
        if (label) {
          ctx.fillStyle = '#8a8a8a';
          ctx.font = font(9);
          ctx.textBaseline = 'bottom';
          ctx.textAlign = f.side === 'left' ? 'left' : 'right';
          ctx.fillText(label, f.side === 'left' ? X(f.t1) : X(f.t2), y - 2);
        }
      }
    }
    ctx.setLineDash([2, 2]);
    for (const d of dottedLines) {
      ctx.strokeStyle = d.color;
      ctx.lineWidth = d.w;
      line(X(d.t1), Y(d.ax, d.v), X(d.t2), Y(d.ax, d.v));
    }
    // magenta trend lines
    ctx.setLineDash([2.5, 2.5]);
    ctx.strokeStyle = '#ff1aff';
    ctx.lineWidth = 3;
    for (const [ax, t1, v1, t2, v2] of trendLines as any[]) line(X(t1), Y(ax, v1), X(t2), Y(ax, v2));
    ctx.setLineDash([]);
    for (const [ax, t1, v1, t2, v2, c] of arrows) {
      if (c === 'g') drawArrow(ctx, X(t1), Y(ax, v1), X(t2), Y(ax, v2), '#33dd33', 2);
      else drawArrow(ctx, X(t1), Y(ax, v1), X(t2), Y(ax, v2), '#1a3ae0', 1.6);
    }
    ctx.strokeStyle = '#f01010';
    ctx.lineWidth = 2;
    for (const [ax, t1, v1, tc, vc, t2, v2] of arcs as any[]) {
      ctx.beginPath();
      ctx.moveTo(X(t1), Y(ax, v1));
      ctx.quadraticCurveTo(X(tc), Y(ax, vc), X(t2), Y(ax, v2));
      ctx.stroke();
    }
    for (const [ax, t, v, rx, ry, st] of ellipses) {
      ctx.beginPath();
      ctx.ellipse(X(t), Y(ax, v), rx, ry, 0, 0, Math.PI * 2);
      ctx.fillStyle = ellipseStyle[st][0];
      ctx.fill();
      ctx.strokeStyle = ellipseStyle[st][1];
      ctx.lineWidth = 1.2;
      ctx.stroke();
    }
    // callout wedges
    for (const [[a1, t1, v1], [a2, t2, v2]] of callouts) {
      const bx = X(t1); const by = Y(a1, v1);
      const tx = X(t2); const ty = Y(a2, v2);
      const a = Math.atan2(ty - by, tx - bx);
      const nx = -Math.sin(a) * 4; const ny = Math.cos(a) * 4;
      ctx.beginPath();
      ctx.moveTo(bx + nx, by + ny);
      ctx.lineTo(tx, ty);
      ctx.lineTo(bx - nx, by - ny);
      ctx.closePath();
      ctx.fillStyle = 'rgba(255,255,255,0.85)';
      ctx.fill();
      ctx.strokeStyle = '#8c8c8c';
      ctx.lineWidth = 1;
      ctx.stroke();
    }
    // text boxes
    for (const n of notes as any[]) {
      const x = Math.round(X(n.t));
      const y = Math.round(Y(n.ax, n.v));
      ctx.fillStyle = '#c9c9c9';
      ctx.fillRect(x + 3, y + 3, n.w, n.h);
      ctx.fillStyle = '#fff';
      ctx.fillRect(x, y, n.w, n.h);
      ctx.strokeStyle = '#9c9c9c';
      ctx.lineWidth = 1;
      ctx.strokeRect(x + 0.5, y + 0.5, n.w, n.h);
      const lh = n.lh || 21.6;
      const first = n.lines.length === 1 ? y + n.h / 2 + 0.5 : y + 13.3;
      drawLines(ctx, x + 3, first, n.lines, lh, n.size, n.bold, n.color, n.w - 7);
    }
    for (const f of freeTexts) {
      drawLines(ctx, X(f.t), Y(f.ax, f.v), f.lines, f.lh, f.size, f.bold, f.color, 400);
    }
    // legends
    for (const lg of legends) {
      const top = s[lg.ax].top;
      lg.rows.forEach(([txt, mark, col], i) => {
        const y = top + 6.5 + i * 9.5;
        ctx.strokeStyle = mark;
        ctx.lineWidth = 2;
        line(ca.left + 3, y, ca.left + 10, y);
        ctx.fillStyle = col;
        ctx.font = font(9);
        ctx.textAlign = 'left';
        ctx.textBaseline = 'middle';
        ctx.fillText(txt, ca.left + 13, y + 0.5);
      });
    }
    // value tags on the price axis
    for (const [ax, v, txt, col] of valueTags) {
      const y = Math.round(Y(ax, v)) + 0.5;
      const x = ca.right + 2;
      ctx.beginPath();
      ctx.moveTo(x, y);
      ctx.lineTo(x + 4, y - 5.5);
      ctx.lineTo(x + 36, y - 5.5);
      ctx.lineTo(x + 36, y + 5.5);
      ctx.lineTo(x + 4, y + 5.5);
      ctx.closePath();
      ctx.fillStyle = '#fff';
      ctx.fill();
      ctx.strokeStyle = col;
      ctx.lineWidth = 1;
      ctx.stroke();
      ctx.fillStyle = col;
      ctx.font = font(9);
      ctx.textAlign = 'left';
      ctx.textBaseline = 'middle';
      ctx.fillText(txt, x + 5, y + 0.5, 30);
    }
    ctx.restore();
  },
  afterDraw(chart: any) {
    const { ctx, chartArea: ca, scales: s } = chart;
    ctx.save();
    ctx.strokeStyle = '#9a9a9a';
    ctx.lineWidth = 1;
    for (const p of panels) {
      if (p.id === 'sp') continue;
      const sc = s[p.id];
      ctx.strokeRect(ca.left + 0.5, Math.round(sc.top) + 0.5, ca.right - ca.left - 1, Math.round(sc.bottom - sc.top) - 1);
    }
    // header
    ctx.fillStyle = '#111';
    ctx.textAlign = 'left';
    ctx.textBaseline = 'alphabetic';
    ctx.font = font(11.5, true);
    ctx.fillText('$GOLD', 13, 12, 37);
    ctx.font = font(9);
    ctx.fillText('Gold - Continuous Contract (EOD)', 52, 12, 134);
    ctx.font = font(7.5);
    ctx.fillText('CME', 190, 12, 19);
    ctx.font = font(9);
    ctx.fillText('29-Jun-2018', 13, 21.5, 49);
    ctx.textAlign = 'right';
    ctx.fillStyle = '#555';
    ctx.fillText('\u00a9StockCharts.com', 986, 11, 76);
    const parts: [string, boolean][] = [['Open', true], [' 1249.50 ', false], ['High', true], [' 1257.10 ', false], ['Low', true],
      [' 1246.90 ', false], ['Close', true], [' 1254.50 ', false], ['Volume', true], [' 223.6K ', false], ['Chg', true], [' +3.50 (+0.28%) \u25b2', false]];
    let total = 0;
    for (const [t, b] of parts) { ctx.font = font(9, b); total += ctx.measureText(t).width; }
    const k = Math.min(1, 408 / total);
    ctx.translate(985 - total * k, 22);
    ctx.scale(k, 1);
    ctx.textAlign = 'left';
    ctx.fillStyle = '#111';
    let cx = 0;
    for (const [t, b] of parts) { ctx.font = font(9, b); ctx.fillText(t, cx, 0); cx += ctx.measureText(t).width; }
    ctx.restore();
  },
};

function buildScales() {
  const scales: any = {
    x: {
      type: 'linear',
      position: 'bottom',
      min: X_MIN,
      max: X_MAX,
      afterBuildTicks: (sc: any) => { sc.ticks = monthTicks.map((v) => ({ value: v })); },
      afterFit: (sc: any) => { sc.height = 12; sc.paddingLeft = 0; sc.paddingRight = 0; },
      ticks: {
        autoSkip: false,
        maxRotation: 0,
        padding: 1,
        color: '#222',
        font: (c: any) => ({ family: SANS, size: 9, weight: isYear(c.tick && c.tick.value) ? 'bold' : 'normal' }),
        callback: (v: any) => monthLabels[Math.round(v) - 5] || '',
      },
      grid: { color: (c: any) => (isYear(c.tick && c.tick.value) ? '#c6c6c6' : '#e3e3e3'), drawTicks: false },
      border: { display: false },
    },
  };
  panels.forEach((p: any, i) => {
    const fit = (sc: any) => { sc.width = 39; sc.paddingTop = 0; sc.paddingBottom = 0; };
    if (p.id === 'sp') {
      scales.sp = {
        type: 'linear', position: 'right', stack: 'panels', stackWeight: p.h, weight: i, min: 0, max: 1,
        ticks: { display: false }, grid: { display: false }, border: { display: false }, afterFit: fit,
      };
      return;
    }
    scales[p.id] = {
      type: p.log ? 'logarithmic' : 'linear',
      position: 'right',
      stack: 'panels',
      stackWeight: p.h,
      weight: i,
      min: p.min,
      max: p.max,
      afterBuildTicks: (sc: any) => { sc.ticks = range(p.tick[0], p.tick[1], p.tick[2]).map((v) => ({ value: v })); },
      afterFit: fit,
      ticks: { autoSkip: false, padding: 4, color: '#222', font: { family: SANS, size: 9 }, callback: (v: any) => Number(v).toFixed(p.dec) },
      grid: { color: '#e3e3e3', drawTicks: false },
      border: { display: false },
    };
  });
  return scales;
}

export default function App() {
  const canvasRef = useRef<HTMLCanvasElement>(null);

  useEffect(() => {
    document.body.style.margin = '0';
    const canvas = canvasRef.current;
    if (!canvas) return;
    const chart = new Chart(canvas, {
      type: 'line',
      data: {
        datasets: series.map((sr) => ({
          data: sr.data.map((y, i) => ({ x: T0 + i * DT, y })),
          yAxisID: sr.ax,
          borderColor: sr.color,
          borderWidth: sr.w,
          pointRadius: 0,
          tension: 0,
          fill: false,
        })),
      },
      options: {
        animation: false,
        responsive: false,
        events: [],
        layout: { padding: { left: 13, top: 23, right: 0, bottom: 0 } },
        plugins: { legend: { display: false }, tooltip: { enabled: false } },
        scales: buildScales(),
      } as any,
      plugins: [overlay],
    });
    return () => chart.destroy();
  }, []);

  return (
    <div style={{ position: 'relative', width: 1024, height: 2885, background: '#fff' }}>
      <canvas ref={canvasRef} width={1024} height={2885} style={{ display: 'block', width: 1024, height: 2885 }} />
    </div>
  );
}
